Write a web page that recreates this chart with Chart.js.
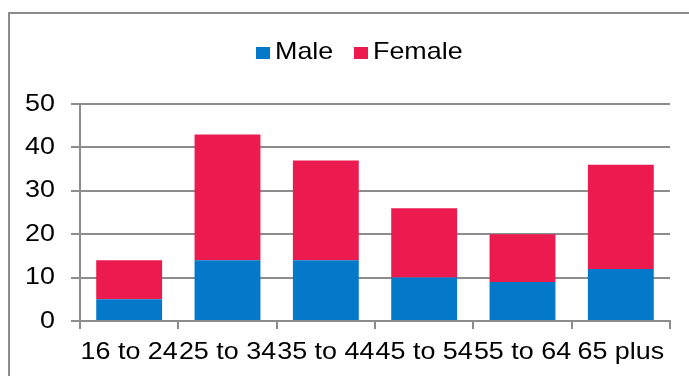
<!DOCTYPE html>
<html>
<head>
<meta charset="utf-8">
<script src="https://cdn.jsdelivr.net/npm/chart.js@4"></script>
<style>
  html, body { margin: 0; padding: 0; background: #fff; overflow: hidden; }
  #wrap { position: relative; width: 689px; height: 376px; }
  #frame { position: absolute; left: 8px; top: 12px; width: 700px; height: 400px;
           border-left: 2px solid #8c8c8c; border-top: 2px solid #8c8c8c; box-sizing: border-box; }
  canvas { position: absolute; left: 0; top: 0; }
  .lg { position: absolute; font-family: "Liberation Sans", Arial, sans-serif; font-size: 24px;
        line-height: 24px; color: #000; white-space: nowrap; transform: scaleX(1.12); transform-origin: 0 0; }
  .bx { position: absolute; width: 14px; height: 12px; }
</style>
</head>
<body>
<div id="wrap">
  <div id="frame"></div>
  <canvas id="c" width="689" height="376"></canvas>
  <div class="bx" id="b0" style="left:256px; top:47px;"></div>
  <div class="lg" id="t0" style="left:275px; top:39px;"></div>
  <div class="bx" id="b1" style="left:354px; top:47px;"></div>
  <div class="lg" id="t1" style="left:373px; top:39px;"></div>
</div>
<script>
const categories = ["16 to 24", "25 to 34", "35 to 44", "45 to 54", "55 to 64", "65 plus"];
const seriesNames = ["Male", "Female"];
const maleValues = [5, 14, 14, 10, 9, 12];
const femaleValues = [9, 29, 23, 16, 11, 24];
const yTicks = [0, 10, 20, 30, 40, 50];

const colors = ["#0579C9", "#EB1A4F"];
const fontFam = '"Liberation Sans", Arial, sans-serif';
const gridCol = "#8c8c8c";
const SX = 1.12;

document.getElementById("b0").style.background = colors[0];
document.getElementById("b1").style.background = colors[1];
document.getElementById("t0").textContent = seriesNames[0];
document.getElementById("t1").textContent = seriesNames[1];

const stretchText = {
  id: "stretchText",
  beforeDraw(chart) {
    const ctx = chart.ctx;
    if (ctx.__stretched) return;
    const orig = ctx.fillText;
    ctx.fillText = function (t, x, y, mw) {
      this.save();
      this.translate(x, y);
      this.scale(SX, 1);
      orig.call(this, t, 0, 0);
      this.restore();
    };
    ctx.__stretched = true;
  }
};

new Chart(document.getElementById("c"), {
  type: "bar",
  data: {
    labels: categories,
    datasets: [
      { label: seriesNames[0], data: maleValues, backgroundColor: colors[0], borderWidth: 0 },
      { label: seriesNames[1], data: femaleValues, backgroundColor: colors[1], borderWidth: 0 }
    ]
  },
  plugins: [stretchText],
  options: {
    responsive: false,
    animation: false,
    devicePixelRatio: 1,
    layout: { padding: { left: 0, right: 19, top: 104, bottom: 0 } },
    plugins: { legend: { display: false }, tooltip: { enabled: false } },
    datasets: { bar: { barPercentage: 0.67, categoryPercentage: 1 } },
    scales: {
      x: {
        stacked: true,
        afterFit: s => { s.height = 55; },
        grid: { offset: true, drawOnChartArea: false, drawTicks: true, tickLength: 8, color: gridCol, lineWidth: 2 },
        border: { display: true, color: gridCol, width: 2 },
        ticks: { color: "#000", font: { family: fontFam, size: 24 }, padding: 9, maxRotation: 0, autoSkip: false }
      },
      y: {
        stacked: true,
        min: yTicks[0],
        max: yTicks[yTicks.length - 1],
        afterFit: s => { s.width = 80; },
        afterBuildTicks: s => { s.ticks = yTicks.map(v => ({ value: v })); },
        grid: { color: gridCol, lineWidth: 2, tickLength: 9, drawTicks: true },
        border: { display: true, color: gridCol, width: 2 },
        ticks: { color: "#000", font: { family: fontFam, size: 24 }, padding: 16 }
      }
    }
  }
});
</script>
</body>
</html>
